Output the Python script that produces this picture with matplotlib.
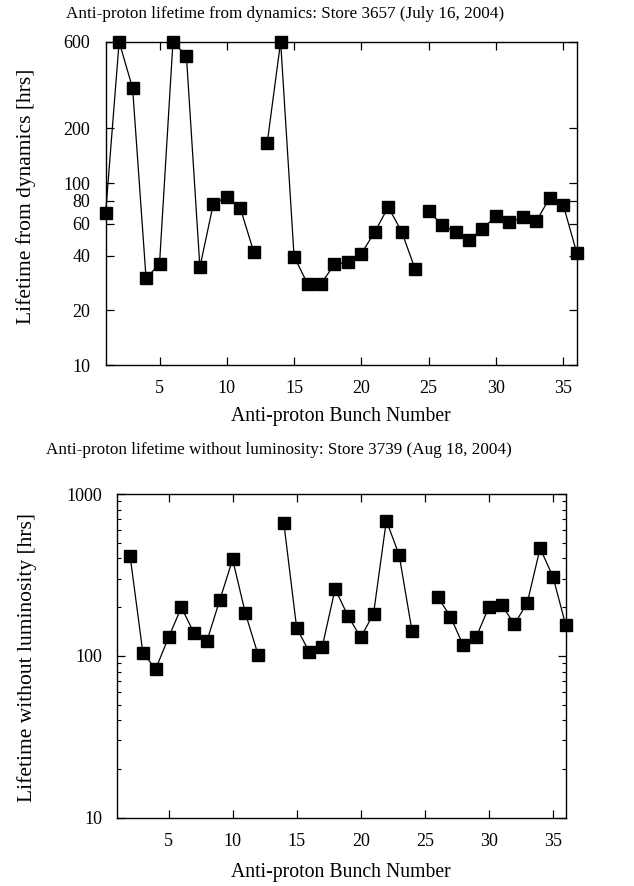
import matplotlib
matplotlib.use("Agg")
import matplotlib.pyplot as plt
import matplotlib.ticker as mticker
import numpy as np

plt.rcParams['font.family'] = ['Liberation Serif', 'DejaVu Serif']

# Store 3657: lifetime from dynamics (gaps at the abort-gap boundaries)
bunch_top = [list(range(1, 13)), list(range(13, 25)), list(range(25, 37))]
life_top = [
    [69, 600, 333, 30, 36, 600, 500, 34.5, 77, 84, 73, 42],
    [166, 600, 39.5, 28, 28, 35.8, 36.7, 41, 54, 74, 54, 33.6],
    [70, 59, 54, 49, 56, 66, 61, 65, 62, 83, 76, 41.5],
]
yticks_top = [10, 20, 40, 60, 80, 100, 200, 600]

# Store 3739: lifetime without luminosity
bunch_bot = [list(range(2, 13)), list(range(14, 25)), list(range(26, 37))]
life_bot = [
    [414, 104, 83, 130, 199, 138, 124, 221, 395, 183, 101],
    [660, 149, 105, 114, 259, 177, 130, 182, 685, 420, 143],
    [232, 175, 116, 130, 200, 206, 157, 213, 462, 309, 155],
]
yticks_bot = [10, 100, 1000]
xticks = [5, 10, 15, 20, 25, 30, 35]


def style_axes(ax):
    ax.set_xlim(1, 36)
    ax.set_yscale('log')
    ax.set_xticks(xticks)
    ax.tick_params(which='both', direction='in', top=True, right=True,
                   labelsize=13)
    ax.tick_params(axis='y', pad=11)
    ax.tick_params(axis='x', pad=11)
    ax.tick_params(which='major', length=6, width=0.9)
    ax.tick_params(which='minor', length=3, width=0.8)
    for s in ax.spines.values():
        s.set_linewidth(1.0)


fig = plt.figure(figsize=(6.34, 8.86), dpi=100)

ax1 = fig.add_axes([0.1667, 0.588, 0.7429, 0.3649])
for xs, ys in zip(bunch_top, life_top):
    ax1.plot(xs, ys, color='black', lw=0.9, marker='s', ms=8.5,
             mfc='black', mec='black', clip_on=False)
style_axes(ax1)
ax1.set_ylim(10, 600)
ax1.yaxis.set_major_locator(mticker.FixedLocator(yticks_top))
ax1.yaxis.set_major_formatter(mticker.FixedFormatter([str(v) for v in yticks_top]))
ax1.yaxis.set_minor_locator(mticker.NullLocator())

ax2 = fig.add_axes([0.185, 0.0771, 0.7073, 0.3653])
for xs, ys in zip(bunch_bot, life_bot):
    ax2.plot(xs, ys, color='black', lw=0.9, marker='s', ms=8.5,
             mfc='black', mec='black', clip_on=False)
style_axes(ax2)
ax2.set_ylim(10, 1000)
ax2.yaxis.set_major_locator(mticker.FixedLocator(yticks_bot))
ax2.yaxis.set_major_formatter(mticker.FixedFormatter([str(v) for v in yticks_bot]))
ax2.yaxis.set_minor_locator(mticker.LogLocator(base=10, subs=np.arange(2, 10)))
ax2.yaxis.set_minor_formatter(mticker.NullFormatter())

fig.text(285.5 / 634, 1 - 14 / 886, 'Anti-proton lifetime from dynamics: Store 3657 (July 16, 2004)',
         ha='center', va='center', fontsize=12.3)
fig.text(279 / 634, 1 - 450 / 886, 'Anti-proton lifetime without luminosity: Store 3739 (Aug 18, 2004)',
         ha='center', va='center', fontsize=12.3)
fig.text(341 / 634, 1 - 416 / 886, 'Anti-proton Bunch Number', ha='center', va='center', fontsize=14.2)
fig.text(341 / 634, 1 - 873 / 886, 'Anti-proton Bunch Number', ha='center', va='center', fontsize=14.2)
fig.text(26 / 634, 1 - 196 / 886, 'Lifetime from dynamics [hrs]', ha='center', va='center',
         rotation=90, fontsize=15.5)
fig.text(27 / 634, 1 - 658 / 886, 'Lifetime without luminosity [hrs]', ha='center', va='center',
         rotation=90, fontsize=15.5)

fig.savefig('out.png', dpi=100)
